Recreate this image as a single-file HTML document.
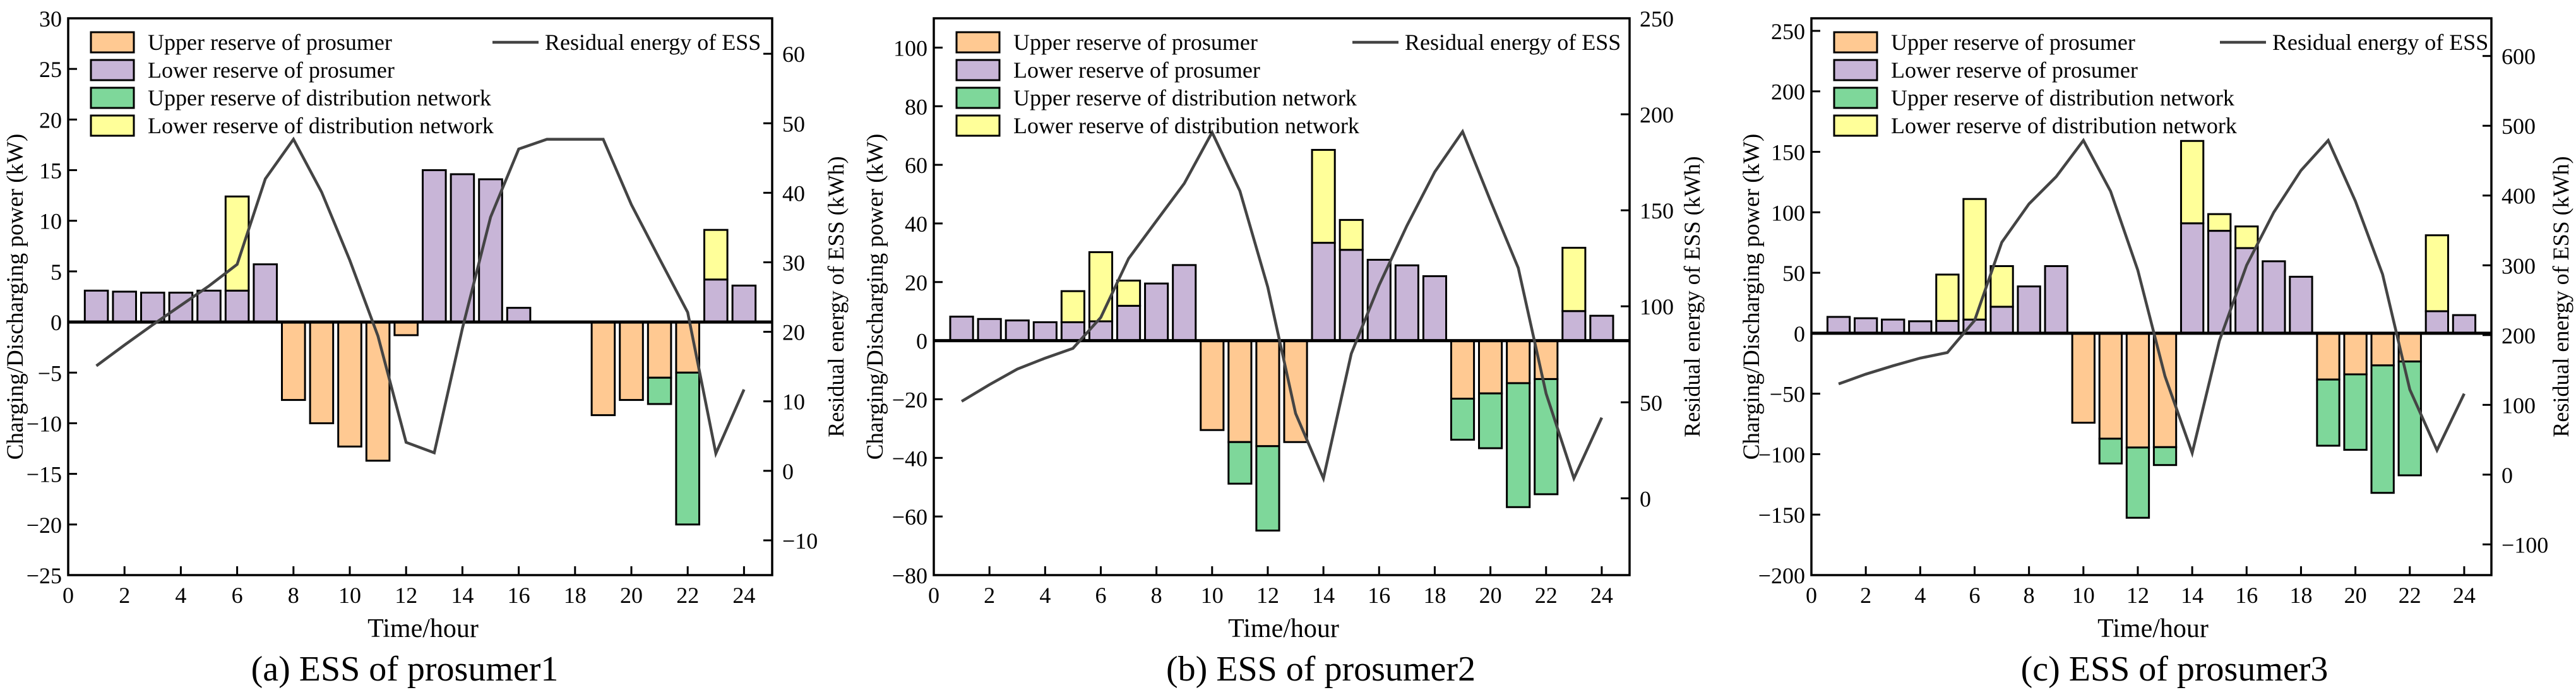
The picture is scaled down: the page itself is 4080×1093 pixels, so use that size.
<!DOCTYPE html>
<html><head><meta charset="utf-8"><style>
html,body{margin:0;padding:0;background:#fff}
svg{display:block;font-family:"Liberation Serif",serif}
</style></head><body>
<svg id="fig" width="4080" height="1093" viewBox="0 0 4080 1093"></svg>
<script>
const hours=[1,2,3,4,5,6,7,8,9,10,11,12,13,14,15,16,17,18,19,20,21,22,23,24];
// chart a
const aLowerPros=[3.1,3.0,2.9,2.9,3.1,3.1,5.7,0,0,0,0,0,15,14.6,14.1,1.4,0,0,0,0,0,0,4.2,3.6];
const aLowerDN=[0,0,0,0,0,9.3,0,0,0,0,0,0,0,0,0,0,0,0,0,0,0,0,4.9,0];
const aUpperPros=[0,0,0,0,0,0,0,-7.7,-10,-12.3,-13.7,-1.3,0,0,0,0,0,0,-9.2,-7.7,-5.5,-5.0,0,0];
const aUpperDN=[0,0,0,0,0,0,0,0,0,0,0,0,0,0,0,0,0,0,0,0,-2.6,-15,0,0];
const aEnergy=[15.1,18.1,21.0,23.8,26.6,29.7,42,47.7,40.1,30.3,19.4,4.1,2.6,20.5,36.5,46.3,47.7,47.7,47.7,38.3,30.5,22.8,2.5,11.7];
const aLeftTicks=[-25,-20,-15,-10,-5,0,5,10,15,20,25,30];
const aRightTicks=[-10,0,10,20,30,40,50,60];
// chart b
const bLowerPros=[8.2,7.4,6.9,6.3,6.3,6.6,11.9,19.5,25.8,0,0,0,0,33.4,31,27.6,25.7,22,0,0,0,0,10.1,8.5];
const bLowerDN=[0,0,0,0,10.6,23.6,8.6,0,0,0,0,0,0,31.7,10.2,0,0,0,0,0,0,0,21.6,0];
const bUpperPros=[0,0,0,0,0,0,0,0,0,-30.5,-34.6,-36,-34.6,0,0,0,0,0,-19.8,-18,-14.5,-13.1,0,0];
const bUpperDN=[0,0,0,0,0,0,0,0,0,0,-14.2,-28.8,0,0,0,0,0,0,-14,-18.7,-42.3,-39.3,0,0];
const bEnergy=[50.5,59.2,67.3,73,78.1,94.2,124.9,144.5,164,190.6,160,110,44.2,10.4,75.3,111,142,170,191,155,120,54.6,10.4,42];
const bLeftTicks=[-80,-60,-40,-20,0,20,40,60,80,100];
const bRightTicks=[0,50,100,150,200,250];
// chart c
const cLowerPros=[13.5,12.4,11.3,9.9,10.2,11.3,21.9,38.7,55.5,0,0,0,0,90.9,84.7,70.4,59.5,46.7,0,0,0,0,18.2,15];
const cLowerDN=[0,0,0,0,38.3,99.7,33.6,0,0,0,0,0,0,68.1,13.8,17.9,0,0,0,0,0,0,62.8,0];
const cUpperPros=[0,0,0,0,0,0,0,0,0,-74,-87.2,-94.5,-94.2,0,0,0,0,0,-38.3,-34,-26.6,-23.4,0,0];
const cUpperDN=[0,0,0,0,0,0,0,0,0,0,-20.5,-58.1,-14.8,0,0,0,0,0,-54.7,-62.4,-105.4,-94.1,0,0];
const cEnergy=[130,144,156,167,175,221,333,388,427,479,406,293,141,31,192,300,376,436,479,392,287,122,35,116];
const cLeftTicks=[-200,-150,-100,-50,0,50,100,150,200,250];
const cRightTicks=[-100,0,100,200,300,400,500,600];
const xTicks=[0,2,4,6,8,10,12,14,16,18,20,22,24];

const NS="http://www.w3.org/2000/svg";
const fig=document.getElementById('fig');
function mk(tag,attrs,parent,text){const e=document.createElementNS(NS,tag);for(const k in attrs)e.setAttribute(k,attrs[k]);if(text!==undefined)e.textContent=text;(parent||fig).appendChild(e);return e;}
const C={up:"#FFC992",low:"#C8B5D7",gdn:"#7ED79A",ydn:"#FFFF99"};

function chart(o){
  const g=mk('g',{});
  
  
  const L=o.left,R=o.right,T=29,B=911;
  const x=v=>L+(v-0)/(25-0)*(R-L);
  const y=v=>T+(o.ly[1]-v)/(o.ly[1]-o.ly[0])*(B-T);
  const y2=v=>T+(o.ry[1]-v)/(o.ry[1]-o.ry[0])*(B-T);
  const bw=0.82*(R-L)/25;
  function bar(h,v0,v1,col,name){
    if(v0===v1)return;
    const r=mk('rect',{x:x(h)-bw/2,y:Math.min(y(v0),y(v1)),width:bw,height:Math.abs(y(v1)-y(v0)),fill:col,stroke:"#000","stroke-width":3},g);
    
    
  }
  hours.forEach((h,i)=>{
    bar(h,0,o.lp[i],C.low,'lower-reserve-prosumer-bar');
    bar(h,o.lp[i],o.lp[i]+o.ld[i],C.ydn,'lower-reserve-dn-bar');
    bar(h,0,o.up[i],C.up,'upper-reserve-prosumer-bar');
    bar(h,o.up[i],o.up[i]+o.ud[i],C.gdn,'upper-reserve-dn-bar');
  });
  const zl=mk('line',{x1:L,x2:R,y1:y(0),y2:y(0),stroke:"#000","stroke-width":5},g);
  
  
  const pl=mk('polyline',{points:hours.map((h,i)=>x(h)+','+y2(o.en[i])).join(' '),fill:"none",stroke:"#444","stroke-width":4.5,"stroke-linejoin":"miter"},g);
  
  
  const fr=mk('rect',{x:L,y:T,width:R-L,height:B-T,fill:"none",stroke:"#000","stroke-width":3.5},g);
  
  
  o.lt.forEach(v=>{
    const t=mk('line',{x1:L,x2:L+14,y1:y(v),y2:y(v),stroke:"#000","stroke-width":3},g);
    
    
    const s=mk('text',{x:L-10,y:y(v)+13,"text-anchor":"end","font-size":36},g,v<0?'\u2212'+(-v):String(v));
    
    
  });
  o.rt.forEach(v=>{
    const t=mk('line',{x1:R-14,x2:R,y1:y2(v),y2:y2(v),stroke:"#000","stroke-width":3},g);
    
    
    const s=mk('text',{x:R+16,y:y2(v)+13,"font-size":36},g,v<0?'\u2212'+(-v):String(v));
    
    
  });
  xTicks.forEach(v=>{
    const t=mk('line',{x1:x(v),x2:x(v),y1:B,y2:B-14,stroke:"#000","stroke-width":3},g);
    
    
    const s=mk('text',{x:x(v),y:955,"text-anchor":"middle","font-size":36},g,String(v));
    
    
  });
  const xt=mk('text',{x:o.xtc,y:1009,"text-anchor":"middle","font-size":42},g,'Time/hour');
  
  
  const cap=mk('text',{x:o.capc,y:1078,"text-anchor":"middle","font-size":56},g,o.cap);
  
  
  const yt=mk('text',{x:0,y:0,"text-anchor":"middle","font-size":37,transform:`translate(${o.ytx},470) rotate(-90)`},g,'Charging/Discharging power (kW)');
  
  
  const yr=mk('text',{x:0,y:0,"text-anchor":"middle","font-size":36,transform:`translate(${o.rtx},470) rotate(-90)`},g,'Residual energy of ESS (kWh)');
  
  
  const items=[[C.up,'Upper reserve of prosumer'],[C.low,'Lower reserve of prosumer'],[C.gdn,'Upper reserve of  distribution network'],[C.ydn,'Lower reserve of  distribution network']];
  items.forEach((it,i)=>{
    const cy=67+i*44;
    const sw=mk('rect',{x:L+36,y:cy-16,width:68,height:32,fill:it[0],stroke:"#000","stroke-width":3},g);
    
    
    const lt=mk('text',{x:L+126,y:cy+12,"font-size":36,"xml:space":"preserve"},g,it[1]);
    
    
  });
  const lx=L+o.lineLeg;
  const ll=mk('line',{x1:lx,x2:lx+73,y1:67,y2:67,stroke:"#444","stroke-width":4.5},g);
  
  
  const lt=mk('text',{x:lx+83,y:79,"font-size":36},g,'Residual energy of ESS');
  
  
}
chart({id:'a',left:108,right:1223,ly:[-25,30],ry:[-15,65.1],lp:aLowerPros,ld:aLowerDN,up:aUpperPros,ud:aUpperDN,en:aEnergy,lt:aLeftTicks,rt:aRightTicks,xtc:670,capc:641,ytx:36,rtx:1336,cap:'(a) ESS of prosumer1',lineLeg:672});
chart({id:'b',left:1479,right:2581,ly:[-80,110],ry:[-40,250],lp:bLowerPros,ld:bLowerDN,up:bUpperPros,ud:bUpperDN,en:bEnergy,lt:bLeftTicks,rt:bRightTicks,xtc:2033,capc:2092,ytx:1398,rtx:2692,cap:'(b) ESS of prosumer2',lineLeg:663});
chart({id:'c',left:2869,right:3946,ly:[-200,260.4],ry:[-144,654],lp:cLowerPros,ld:cLowerDN,up:cUpperPros,ud:cUpperDN,en:cEnergy,lt:cLeftTicks,rt:cRightTicks,xtc:3410,capc:3444,ytx:2786,rtx:4068,cap:'(c) ESS of prosumer3',lineLeg:647});
</script>
</body></html>
